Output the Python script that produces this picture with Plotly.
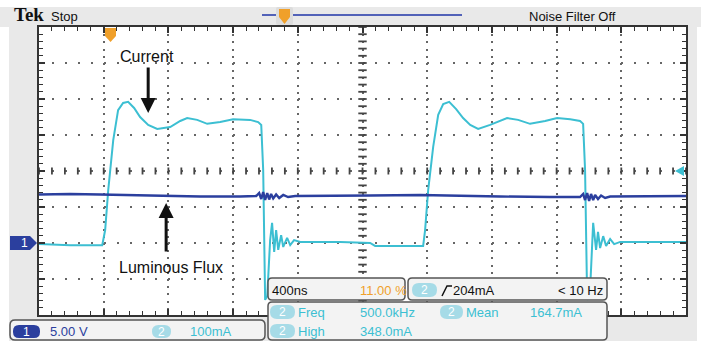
import numpy as np
import plotly.graph_objects as go

# ---- acquisition data -------------------------------------------------------
# horizontal: 400 ns/div, trigger point at 11 % of the record (t = 0)
# channel 2 (current): 100 mA/div ; channel 1 (luminous flux): 5.00 V/div
current_t_ns = [-440, -247, -62, -49, -31, -12, 19, 49, 80, 111, 148, 185, 235, 291,
                371, 433, 476, 538, 600, 680, 760, 865, 915, 934, 946, 958, 971, 989,
                1001, 1014, 1026, 1039, 1057, 1070, 1094, 1113, 1137, 1175, 1422, 1607,
                1638, 1916, 1935, 1947, 1966, 1997, 2028, 2059, 2096, 2139, 2182, 2226,
                2275, 2349, 2411, 2454, 2522, 2596, 2689, 2763, 2844, 2905, 2924, 2936,
                2949, 2967, 2986, 3004, 3016, 3029, 3048, 3066, 3091, 3116, 3153, 3561]
current_ma = [-3, -6, -6, -6, 36, 147, 286, 369, 389, 392, 375, 350, 328, 317,
              322, 339, 347, 342, 331, 336, 344, 342, 336, 328, 203, -158, -147, 8,
              56, -25, 36, -19, 22, -11, 14, -6, 8, 3, 3, 0,
              -8, -8, -8, 36, 147, 267, 356, 386, 392, 372, 347, 328,
              317, 328, 339, 347, 342, 331, 339, 347, 344, 339, 331, 203,
              -158, -131, 56, -19, 31, -14, 19, -8, 11, -3, 3, 3]

flux_t_ns = [-440, -247, -62, 124, 309, 556, 804, 903, 921, 934, 946, 958, 971, 983,
             995, 1008, 1026, 1045, 1070, 1100, 1144, 1360, 1607, 1916, 2164, 2411,
             2720, 2905, 2924, 2936, 2949, 2961, 2973, 2986, 2998, 3016, 3035, 3060,
             3091, 3276, 3561]
flux_v = [6.74, 6.81, 6.74, 6.67, 6.53, 6.46, 6.46, 6.53, 6.94, 6.11, 7.08, 5.97, 6.94, 6.04,
          6.81, 6.18, 6.74, 6.25, 6.67, 6.39, 6.53, 6.53, 6.60, 6.67, 6.53, 6.46,
          6.39, 6.39, 6.81, 5.97, 6.94, 5.83, 6.81, 5.97, 6.67, 6.11, 6.60, 6.25,
          6.46, 6.46, 6.53]

# graticule: 10 x 8 divisions
T_LEFT, T_DIV, N_XDIV = -440, 400, 10
MA_BOTTOM, MA_DIV, N_YDIV = -200, 100, 8
V_BOTTOM, V_DIV = -10, 5

CYAN = "#3cbfd2"
NAVY = "#2b3f9e"
BADGE = "#a6dbe7"
ORANGE = "#f0a02a"
FRAME = "#333333"
PANEL = "#e9e9e9"

W, H = 701, 341
L, R, T, B = 39, 686, 27, 315


def px(x):
    return (x - L) / (R - L)


def py(y):
    return (B - y) / (B - T)


def rrect(x0, y0, x1, y1, r):
    a, b, c, d = px(x0), px(x1), py(y0), py(y1)
    rx, ry = r / (R - L), r / (B - T)
    return (f"M{a+rx},{c} L{b-rx},{c} Q{b},{c} {b},{c-ry} L{b},{d+ry} Q{b},{d} {b-rx},{d} "
            f"L{a+rx},{d} Q{a},{d} {a},{d+ry} L{a},{c-ry} Q{a},{c} {a+rx},{c} Z")


def poly(points):
    return "M" + " L".join(f"{px(x)},{py(y)}" for x, y in points) + " Z"


fig = go.Figure()

# centre cross graticule marks
x_center = T_LEFT + T_DIV * N_XDIV / 2
y_center = MA_BOTTOM + MA_DIV * N_YDIV / 2
minor_x = T_LEFT + np.arange(0, N_XDIV * 5 + 1) * T_DIV / 5
minor_y = MA_BOTTOM + np.arange(0, N_YDIV * 5 + 1) * MA_DIV / 5
fig.add_trace(go.Scatter(x=minor_x, y=np.full(minor_x.size, y_center), mode="markers",
                         marker=dict(symbol="line-ns", size=5, line=dict(color="#444", width=1.8)),
                         hoverinfo="skip", showlegend=False))
fig.add_trace(go.Scatter(x=np.full(minor_y.size, x_center), y=minor_y, mode="markers",
                         marker=dict(symbol="line-ew", size=6, line=dict(color="#444", width=1.8)),
                         hoverinfo="skip", showlegend=False))

fig.add_trace(go.Scatter(x=flux_t_ns, y=flux_v, yaxis="y2", mode="lines", name="Luminous Flux",
                         line=dict(color=NAVY, width=2.4), showlegend=False))
fig.add_trace(go.Scatter(x=current_t_ns, y=current_ma, mode="lines", name="Current",
                         line=dict(color=CYAN, width=2), showlegend=False))

axis_common = dict(showticklabels=False, zeroline=False, showline=True, linecolor=FRAME,
                   linewidth=2, mirror="ticks", ticks="inside", ticklen=6, tickwidth=1.5,
                   tickcolor=FRAME, showgrid=True, gridcolor="#666666", gridwidth=2)

fig.update_layout(
    width=W, height=H,
    margin=dict(l=L, r=W - R, t=T, b=H - B, pad=0),
    paper_bgcolor="white", plot_bgcolor="white",
    xaxis=dict(range=[T_LEFT, T_LEFT + T_DIV * N_XDIV], tick0=T_LEFT, dtick=T_DIV,
               griddash="2px,5.2px",
               minor=dict(tick0=T_LEFT, dtick=T_DIV / 5, ticks="inside", ticklen=4,
                          tickcolor=FRAME, tickwidth=1.4, showgrid=False),
               **axis_common),
    yaxis=dict(range=[MA_BOTTOM, MA_BOTTOM + MA_DIV * N_YDIV], tick0=MA_BOTTOM, dtick=MA_DIV,
               griddash="2px,10.94px",
               minor=dict(tick0=MA_BOTTOM, dtick=MA_DIV / 5, ticks="inside", ticklen=4,
                          tickcolor=FRAME, tickwidth=1.4, showgrid=False),
               **axis_common),
    yaxis2=dict(range=[V_BOTTOM, V_BOTTOM + V_DIV * N_YDIV], overlaying="y", visible=False),
    font=dict(family="Liberation Sans, Arial, sans-serif"),
)

shapes = [
    # instrument panel background and plot window
    dict(type="path", path=rrect(0, 7, 701, 27, 0), fillcolor=PANEL, line=dict(width=0), layer="below"),
    dict(type="path", path=rrect(9, 27, 697, 360, 0), fillcolor=PANEL, line=dict(width=0), layer="below"),
    dict(type="rect", x0=0, x1=1, y0=0, y1=1, xref="paper", yref="paper",
         fillcolor="white", line=dict(width=0), layer="below"),
    # record bar at top
    dict(type="line", x0=px(262), x1=px(462), y0=py(15), y1=py(15), line=dict(color="#5262b8", width=2)),
    dict(type="path", path=rrect(276, 7, 293, 25, 2), fillcolor="#dcdcdc", line=dict(width=0)),
    dict(type="path", path=poly([(279, 9), (290, 9), (290, 17), (284.5, 24), (279, 17)]),
         fillcolor=ORANGE, line=dict(width=0)),
    # trigger position marker
    dict(type="path", path=poly([(105, 28), (116, 28), (116, 36), (110.5, 42), (105, 36)]),
         fillcolor=ORANGE, line=dict(width=0)),
    # trigger level marker
    dict(type="path", path=poly([(675, 171), (684, 166), (684, 176)]), fillcolor=CYAN, line=dict(width=0)),
    # channel 1 ground marker
    dict(type="path", path=poly([(10, 236), (30, 236), (37, 243), (30, 250), (10, 250)]),
         fillcolor=NAVY, line=dict(width=0)),
    # readout boxes
    dict(type="path", path=rrect(10, 320, 265, 340, 5), fillcolor="#f3f3f3", line=dict(color="#555", width=1.5)),
    dict(type="path", path=rrect(268, 278, 405, 300, 4), fillcolor="#f3f3f3", line=dict(color="#555", width=1.5)),
    dict(type="path", path=rrect(408, 278, 607, 300, 4), fillcolor="#f3f3f3", line=dict(color="#555", width=1.5)),
    dict(type="path", path=rrect(268, 302, 607, 340, 4), fillcolor="#f3f3f3", line=dict(color="#555", width=1.5)),
    # channel badges
    dict(type="path", path=rrect(13, 325, 40, 338, 6), fillcolor=NAVY, line=dict(width=0)),
    dict(type="path", path=rrect(152, 325, 171, 338, 6.5), fillcolor=BADGE, line=dict(width=0)),
    dict(type="path", path=rrect(412, 283, 437, 297, 7), fillcolor=BADGE, line=dict(width=0)),
    dict(type="path", path=rrect(270, 305, 295, 319, 7), fillcolor=BADGE, line=dict(width=0)),
    dict(type="path", path=rrect(270, 324, 295, 338, 7), fillcolor=BADGE, line=dict(width=0)),
    dict(type="path", path=rrect(440, 305, 463, 319, 7), fillcolor=BADGE, line=dict(width=0)),
    # rising-edge slope symbol
    dict(type="path", path=f"M{px(442)},{py(296)} L{px(447)},{py(286)} L{px(452)},{py(286)}",
         line=dict(color="#111", width=1.5)),
]
for s in shapes:
    s.setdefault("xref", "paper")
    s.setdefault("yref", "paper")
fig.update_layout(shapes=shapes)

SANS = "Liberation Sans Narrow, Arial Narrow, Liberation Sans, sans-serif"


def label(x, y, text, color="#111", size=13, anchor="left", family=SANS, bold=False):
    fig.add_annotation(x=px(x), y=py(y), xref="paper", yref="paper", text=f"<b>{text}</b>" if bold else text,
                       showarrow=False, xanchor=anchor, yanchor="middle",
                       font=dict(color=color, size=size, family=family))


label(12, 15, "Tek", size=19, family="Liberation Serif, Times New Roman, serif", bold=True)
label(49, 16, "Stop", size=13)
label(572, 16, "Noise Filter Off", size=13, anchor="center")

label(24, 243, "1", color="white", size=12, anchor="center")
label(26.5, 331.5, "1", color="white", size=12, anchor="center")
label(48, 331, "5.00 V", color=NAVY)
label(161.5, 331.5, "2", color="white", size=12, anchor="center")
label(188, 331, "100mA", color=CYAN)

label(270, 290, "400ns")
label(358, 290, "11.00 %", color=ORANGE)
label(424.5, 290, "2", color="white", size=12, anchor="center")
label(451, 290, "204mA")
label(605, 290, "< 10 Hz", anchor="right")

label(282.5, 312, "2", color="white", size=12, anchor="center")
label(296, 312, "Freq", color=CYAN)
label(358, 312, "500.0kHz", color=CYAN)
label(451.5, 312, "2", color="white", size=12, anchor="center")
label(464, 312, "Mean", color=CYAN)
label(528, 312, "164.7mA", color=CYAN)
label(282.5, 331, "2", color="white", size=12, anchor="center")
label(296, 331, "High", color=CYAN)
label(358, 331, "348.0mA", color=CYAN)

# trace callouts
label(147, 57, "Current", size=16, anchor="center", family="Liberation Sans, Arial, sans-serif")
label(171, 267, "Luminous Flux", size=16, anchor="center", family="Liberation Sans, Arial, sans-serif")
fig.add_annotation(x=235, y=361, xref="x", yref="y", text="", showarrow=True, arrowhead=2,
                   arrowsize=1, arrowwidth=3, arrowcolor="#111", ax=0, ay=-47)
fig.add_annotation(x=346, y=111, xref="x", yref="y", text="", showarrow=True, arrowhead=2,
                   arrowsize=1, arrowwidth=3, arrowcolor="#111", ax=0, ay=50)

fig.write_html("out.html")
